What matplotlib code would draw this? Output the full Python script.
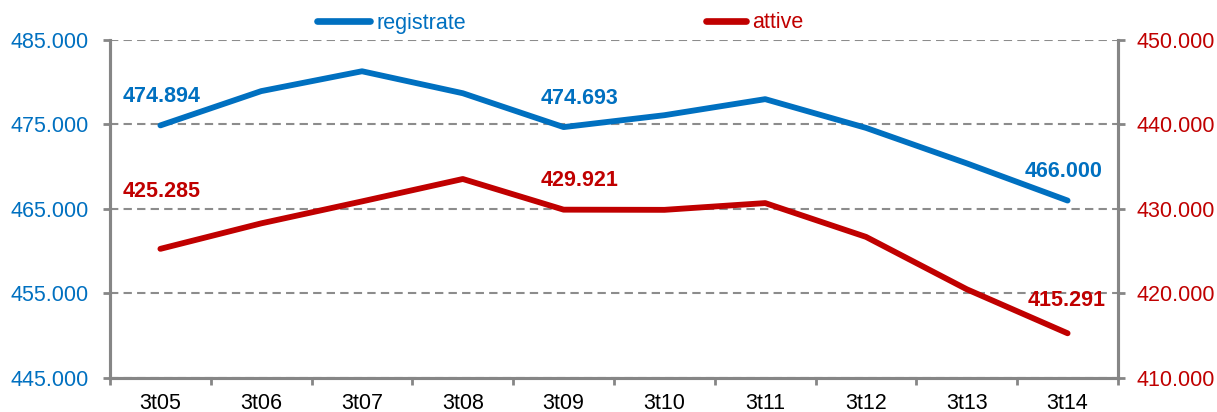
import matplotlib.pyplot as plt
from matplotlib.ticker import FuncFormatter, FixedLocator
from matplotlib.lines import Line2D

plt.rcParams['font.family'] = ['Liberation Sans', 'DejaVu Sans']

# data
periodi = ['3t05', '3t06', '3t07', '3t08', '3t09', '3t10', '3t11', '3t12', '3t13', '3t14']
registrate = [474894, 478950, 481300, 478700, 474693, 476100, 478000, 474600, 470400, 466000]
attive = [425285, 428300, 430900, 433550, 429921, 429900, 430700, 426700, 420500, 415291]
# etichette: indice -> testo
etichette_reg = {0: '474.894', 4: '474.693', 9: '466.000'}
etichette_att = {0: '425.285', 4: '429.921', 9: '415.291'}

blu = '#0070C0'
rosso = '#C00000'
grigio = '#868686'

def fmt(v, pos=None):
    return f"{v:,.0f}".replace(',', '.')

fig = plt.figure(figsize=(12.17, 4.12), dpi=100)
ax = fig.add_axes([110/1217, 1 - 378/412, (1118-110)/1217, (378-40)/412])
ax2 = ax.twinx()

x = list(range(len(periodi)))
ax.plot(x, registrate, color=blu, lw=4.2, solid_capstyle='round', zorder=3)
ax2.plot(x, attive, color=rosso, lw=4.2, solid_capstyle='round', zorder=3)

ax.set_xlim(-0.5, len(periodi) - 0.5)
ax.set_ylim(445000, 485000)
ax2.set_ylim(410000, 450000)
ax.set_yticks(range(445000, 485001, 10000))
ax2.set_yticks(range(410000, 450001, 10000))
ax.yaxis.set_major_formatter(FuncFormatter(fmt))
ax2.yaxis.set_major_formatter(FuncFormatter(fmt))

ax.set_xticks(x)
ax.set_xticklabels(periodi)
ax.xaxis.set_minor_locator(FixedLocator([i - 0.5 for i in range(len(periodi) + 1)]))
ax.tick_params(axis='x', which='major', length=0, pad=10.5, labelsize=15.5, labelcolor='black')
ax.tick_params(axis='x', which='minor', length=5, color=grigio, width=2)
ax.tick_params(axis='y', length=5, color=grigio, width=2, labelsize=15.5, labelcolor=blu, pad=10.5)
ax2.tick_params(axis='y', length=5, color=grigio, width=2, labelsize=15.5, labelcolor=rosso, pad=8.5)

ax.grid(axis='y', linestyle=(0, (4, 2.5)), color='#8c8c8c', lw=1.5)
for a in (ax, ax2):
    a.spines['top'].set_visible(False)
    for s in ('left', 'right', 'bottom'):
        a.spines[s].set_color(grigio)
        a.spines[s].set_linewidth(2.2)

# spostamenti etichette in pixel (dx, dy)
off_reg = {0: (1, 29), 4: (16, 29), 9: (-4, 29)}
off_att = {0: (1, 57), 4: (16, 29), 9: (-1, 33)}
for i, t in etichette_reg.items():
    dx, dy = off_reg[i]
    ax.annotate(t, (x[i], registrate[i]), xytext=(dx * 0.72, dy * 0.72), textcoords='offset points',
                ha='center', va='center', color=blu, fontsize=15.5, fontweight='bold')
for i, t in etichette_att.items():
    dx, dy = off_att[i]
    ax2.annotate(t, (x[i], attive[i]), xytext=(dx * 0.72, dy * 0.72), textcoords='offset points',
                 ha='center', va='center', color=rosso, fontsize=15.5, fontweight='bold')

h_reg = Line2D([], [], color=blu, lw=4.8, solid_capstyle='round')
h_att = Line2D([], [], color=rosso, lw=4.8, solid_capstyle='round')
leg1 = fig.legend([h_reg], ['registrate'], loc='center left',
                  bbox_to_anchor=(317/1217, 1 - 23/412), frameon=False,
                  fontsize=15.5, handlelength=2.45, handletextpad=0.3,
                  labelcolor=[blu], borderaxespad=0, borderpad=0)
leg2 = fig.legend([h_att], ['attive'], loc='center left',
                  bbox_to_anchor=(706/1217, 1 - 23/412), frameon=False,
                  fontsize=15.5, handlelength=1.85, handletextpad=0.3,
                  labelcolor=[rosso], borderaxespad=0, borderpad=0)

fig.savefig('out.png', dpi=100)
